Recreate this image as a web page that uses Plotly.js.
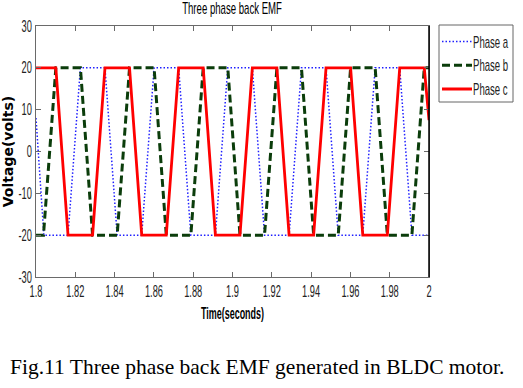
<!DOCTYPE html>
<html>
<head>
<meta charset="utf-8">
<script src="https://cdn.plot.ly/plotly-3.0.1.min.js"></script>
<style>
html,body{margin:0;padding:0;background:#fff;}
#chart{width:523px;height:388px;}
</style>
</head>
<body>
<div id="chart"></div>
<script>
// ---- data ----
var seriesNames = ['Phase a', 'Phase b', 'Phase c'];

var timeA = [1.8, 1.8040, 1.8163, 1.8226, 1.8351, 1.8413, 1.8538, 1.8601, 1.8726, 1.8788, 1.8913, 1.8976, 1.9101, 1.9163, 1.9288, 1.9351, 1.9476, 1.9538, 1.9663, 1.9726, 1.9851, 1.9913, 2.0];
var voltA = [8, -20, -20, 20, 20, -20, -20, 20, 20, -20, -20, 20, 20, -20, -20, 20, 20, -20, -20, 20, 20, -20, -20];

var timeB = [1.8, 1.8038, 1.8101, 1.8226, 1.8288, 1.8413, 1.8476, 1.8601, 1.8663, 1.8788, 1.8851, 1.8976, 1.9038, 1.9163, 1.9226, 1.9351, 1.9413, 1.9538, 1.9601, 1.9726, 1.9788, 1.9913, 1.9976, 2.0];
var voltB = [-20, -20, 20, 20, -20, -20, 20, 20, -20, -20, 20, 20, -20, -20, 20, 20, -20, -20, 20, 20, -20, -20, 20, 20];

var timeC = [1.8, 1.8101, 1.8163, 1.8288, 1.8351, 1.8476, 1.8538, 1.8663, 1.8726, 1.8851, 1.8913, 1.9038, 1.9101, 1.9226, 1.9288, 1.9413, 1.9476, 1.9601, 1.9663, 1.9788, 1.9851, 1.9976, 2.0];
var voltC = [20, 20, -20, -20, 20, 20, -20, -20, 20, 20, -20, -20, 20, 20, -20, -20, 20, 20, -20, -20, 20, 20, 7.5];

var xTickVals = [1.8, 1.82, 1.84, 1.86, 1.88, 1.9, 1.92, 1.94, 1.96, 1.98, 2.0];
var xTickText = ['1.8', '1.82', '1.84', '1.86', '1.88', '1.9', '1.92', '1.94', '1.96', '1.98', '2'];
var yTickVals = [-30, -20, -10, 0, 10, 20, 30];
var yTickText = ['-30', '-20', '-10', '0', '10', '20', '30'];

var titleText = 'Three phase back EMF';
var xTitleText = 'Time(seconds)';
var yTitleText = 'Voltage(volts)';
var captionText = 'Fig.11 Three phase back EMF generated in BLDC motor.';

// ---- layout geometry (pixels) ----
var W = 523, H = 388;
var M = {l: 36, r: 94, t: 26, b: 111};
var plotW = W - M.l - M.r, plotH = H - M.t - M.b;
function px2paperX(px) { return (px - M.l) / plotW; }
function px2paperY(py) { return 1 - (py - M.t) / plotH; }

var sans = 'Liberation Sans, Arial, sans-serif';
var axisColor = '#6a6a6a';

var traces = [
  {x: timeA, y: voltA, name: seriesNames[0], type: 'scatter', mode: 'lines',
   line: {color: '#1f1fff', width: 1.5, dash: '1.5px,2px'}},
  {x: timeB, y: voltB, name: seriesNames[1], type: 'scatter', mode: 'lines',
   line: {color: '#0b3d0b', width: 3, dash: '8px,4px'}},
  {x: timeC, y: voltC, name: seriesNames[2], type: 'scatter', mode: 'lines',
   line: {color: '#ff0000', width: 2.8}}
];

var layout = {
  width: W, height: H,
  margin: {l: M.l, r: M.r, t: M.t, b: M.b, pad: 0, autoexpand: false},
  paper_bgcolor: '#fff', plot_bgcolor: '#fff',
  showlegend: true,
  title: {text: titleText, x: 232 / W, xanchor: 'center', y: 1 - 8 / H, yanchor: 'middle',
          font: {family: sans, size: 16, color: '#000'}},
  xaxis: {
    range: [1.8, 2.0], tickvals: xTickVals, ticktext: xTickText,
    ticks: 'inside', ticklen: 5, tickcolor: axisColor, tickwidth: 1,
    showline: true, linecolor: axisColor, linewidth: 1, mirror: 'allticks',
    showgrid: false, zeroline: false, automargin: false,
    tickfont: {family: sans, size: 16, color: '#222'},
    title: {text: xTitleText, standoff: 8, font: {family: sans, size: 16, color: '#000', weight: 'bold'}}
  },
  yaxis: {
    range: [-30, 30], tickvals: yTickVals, ticktext: yTickText,
    ticks: 'inside', ticklen: 5, tickcolor: axisColor, tickwidth: 1,
    showline: true, linecolor: axisColor, linewidth: 1, mirror: 'allticks',
    showgrid: false, zeroline: false, automargin: false,
    tickfont: {family: sans, size: 16, color: '#222'},
    title: {text: yTitleText, standoff: 4, font: {family: 'DejaVu Sans, sans-serif', size: 14, color: '#000', weight: 'bold'}}
  },
  legend: {
    x: px2paperX(437), xanchor: 'left', y: px2paperY(24.5), yanchor: 'top',
    bgcolor: 'rgba(0,0,0,0)', borderwidth: 0,
    font: {family: sans, size: 16, color: '#222'}
  },
  shapes: [
    {type: 'line', xref: 'paper', yref: 'paper', x0: 1, x1: 1, y0: 0, y1: 1,
     line: {color: '#000', width: 1.5}},
    {type: 'rect', xref: 'paper', yref: 'paper',
     x0: px2paperX(439), x1: px2paperX(513), y0: px2paperY(25), y1: px2paperY(102),
     line: {color: '#666', width: 1}, fillcolor: 'rgba(0,0,0,0)'}
  ],
  annotations: [
    {text: captionText, xref: 'paper', yref: 'paper', x: px2paperX(256.5), y: px2paperY(367),
     xanchor: 'center', yanchor: 'middle', showarrow: false,
     font: {family: 'Liberation Serif, Times New Roman, serif', size: 21.5, color: '#000'}}
  ]
};

// compress text horizontally (the reference figure was squeezed sideways)
function squish(gd, sel, sx, sy, mode, dx) {
  dx = dx || 0;
  gd.querySelectorAll(sel).forEach(function (t) {
    var bb = t.getBBox();
    var ax = mode === 'start' ? bb.x : (mode === 'end' ? bb.x + bb.width : bb.x + bb.width / 2);
    var ay = bb.y + bb.height / 2;
    var tr = t.getAttribute('transform') || '';
    t.setAttribute('transform', tr + ' translate(' + (ax + dx) + ',' + ay + ') scale(' + sx + ',' + sy + ') translate(' + (-ax) + ',' + (-ay) + ')');
  });
}

var gd = document.getElementById('chart');
Plotly.newPlot(gd, traces, layout, {displayModeBar: false, staticPlot: true}).then(function () {
  squish(gd, '.xtick text', 0.58, 1, 'middle');
  squish(gd, '.ytick text', 0.58, 1, 'end');
  squish(gd, '.gtitle', 0.6, 1, 'middle');
  squish(gd, '.xtitle', 0.56, 1, 'middle');
  squish(gd, '.legendtext', 0.6, 1, 'start', -4);
});
</script>
</body>
</html>
